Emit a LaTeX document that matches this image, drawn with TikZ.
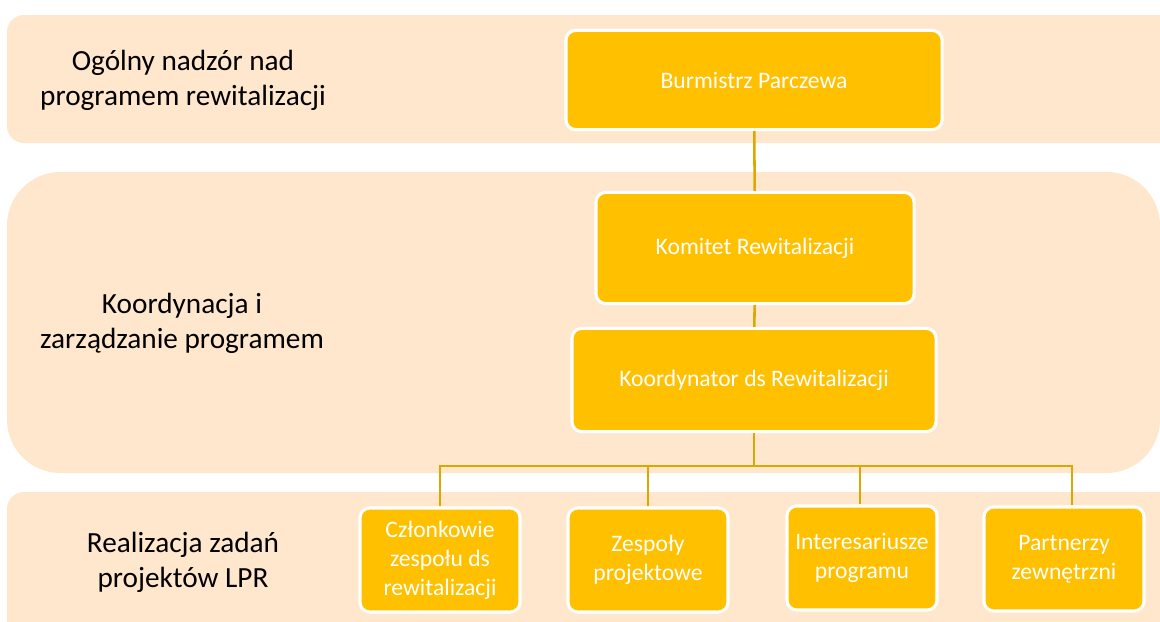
\documentclass[tikz,border=0pt]{standalone}
\usepackage{fontspec}
\setmainfont{Carlito}
\usetikzlibrary{positioning}

\definecolor{bande}{HTML}{FFE7CD}
\definecolor{boite}{HTML}{FFC000}
\definecolor{trait}{HTML}{DEA700}

\tikzset{
  niveau/.style={align=center, text=black, font=\fontsize{20.8}{25}\selectfont},
  poste/.style={rectangle, rounded corners=7pt, fill=boite, draw=white,
    line width=2.2pt, text=white, align=center,
    font=\fontsize{16.8}{20.5}\selectfont},
  petit/.style={poste, minimum width=4.0cm, minimum height=2.6cm},
  lien/.style={draw=trait, line width=1.8pt}
}

\begin{document}
\begin{tikzpicture}[x=0.025cm, y=-0.025cm]

\useasboundingbox (0,0) rectangle (1160,621);
\clip (0,0) rectangle (1160,621);

% Bandes
\fill[bande, rounded corners=12] (7,15) rectangle (1200,143);
\fill[bande, rounded corners=38] (7,172) rectangle (1160,473);
\fill[bande, rounded corners=12] (7,492) rectangle (1200,660);

\node[niveau] (nadzor) at (183,80)
{Ogólny nadzór nad\\programem rewitalizacji};

\node[niveau] (koordynacja) at (182,323)
{Koordynacja i\\zarządzanie programem};

\node[niveau] (realizacja) at (183,562)
{Realizacja zadań\\projektów LPR};

% Postes
\node[poste, minimum width=9.4cm, minimum height=2.48cm] (burmistrz) at (754,80)
{Burmistrz Parczewa};

\node[poste, minimum width=7.95cm, minimum height=2.78cm] (komitet) at (755,248)
{Komitet Rewitalizacji};

\node[poste, minimum width=9.1cm, minimum height=2.58cm] (koordynator) at (754,380)
{Koordynator ds Rewitalizacji};

\node[petit] (czlonkowie) at (440,560)
{Członkowie\\zespołu ds\\rewitalizacji};

\node[petit] (zespoly) at (648,560)
{Zespoły\\projektowe};

\node[petit, minimum width=3.75cm] (interesariusze) at (862,558)
{Interesariusze\\programu};

\node[petit] (partnerzy) at (1064,559)
{Partnerzy\\zewnętrzni};

% Liens
\draw[lien] (burmistrz) -- (komitet);
\draw[lien] (komitet) -- (koordynator);

\coordinate (bus) at (754,466);

\foreach \enfant/\xx in {czlonkowie/440, zespoly/648, interesariusze/860, partnerzy/1072}
{
    \draw[lien] (koordynator.south) -- (bus) -- (\xx,466) -- (\xx,\xx |- \enfant.north);
}

\end{tikzpicture}
\end{document}
